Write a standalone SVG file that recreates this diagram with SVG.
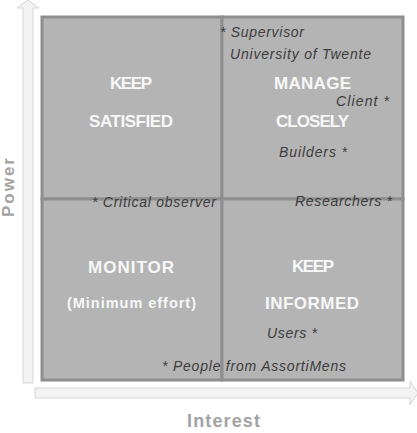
<svg xmlns="http://www.w3.org/2000/svg" width="417" height="433" viewBox="0 0 417 433">
<style>
.quad{fill:#b4b4b4;stroke:#8e8e8e;stroke-width:3}
.title{font-family:"Liberation Sans",Arial,sans-serif;font-weight:bold;font-size:17px;fill:#f7f7f7}
.sub{font-family:"Liberation Sans",Arial,sans-serif;font-weight:bold;font-size:14.5px;fill:#f7f7f7}
.lab{font-family:"Liberation Sans",Arial,sans-serif;font-style:italic;font-size:14px;fill:#3c3c3c}
.axis{font-family:"Liberation Sans",Arial,sans-serif;font-weight:bold;font-size:18px;fill:#a3a3a3}
.arrow{fill:#f3f3f3;stroke:#d6d6d6;stroke-width:1}
</style>
<rect width="417" height="433" fill="#ffffff"/>
<g id="connectors">
<polygon class="arrow" points="23,383 23,8 17,8 28,0 39,8 33,8 33,383"/>
<polygon class="arrow" points="35,388 410,388 410,381 418,393 410,405 410,398 35,398"/>
</g>
<g id="q-keep-satisfied">
<rect class="quad" x="42" y="17" width="180" height="182"/>
<text class="title" x="110" y="89" textLength="42">KEEP</text>
<text class="title" x="89" y="127" textLength="84">SATISFIED</text>
</g>
<g id="q-manage-closely">
<rect class="quad" x="222" y="17" width="181" height="182"/>
<text class="title" x="274" y="89" textLength="77">MANAGE</text>
<text class="title" x="276" y="127" textLength="73">CLOSELY</text>
</g>
<g id="q-monitor">
<rect class="quad" x="42" y="199" width="180" height="181"/>
<text class="title" x="88" y="273" textLength="86">MONITOR</text>
<text class="sub" x="67" y="308" textLength="129">(Minimum  effort)</text>
</g>
<g id="q-keep-informed">
<rect class="quad" x="222" y="199" width="181" height="181"/>
<text class="title" x="292" y="272" textLength="42">KEEP</text>
<text class="title" x="265" y="309" textLength="94">INFORMED</text>
</g>
<g id="labels">
<text class="lab" x="220" y="37" textLength="84">* Supervisor</text>
<text class="lab" x="230" y="59" textLength="141">University of Twente</text>
<text class="lab" x="336" y="106" textLength="53">Client *</text>
<text class="lab" x="279" y="157" textLength="68">Builders *</text>
<text class="lab" x="295" y="206" textLength="97">Researchers *</text>
<text class="lab" x="92" y="207" textLength="124">* Critical observer</text>
<text class="lab" x="267" y="338" textLength="50">Users *</text>
<text class="lab" x="162" y="371" textLength="184">* People from AssortiMens</text>
</g>
<g id="axes">
<text class="axis" style="font-size:17px" transform="translate(14,217) rotate(-90)" x="0" y="0" textLength="59">Power</text>
<text class="axis" x="187" y="427" textLength="73">Interest</text>
</g>
</svg>
